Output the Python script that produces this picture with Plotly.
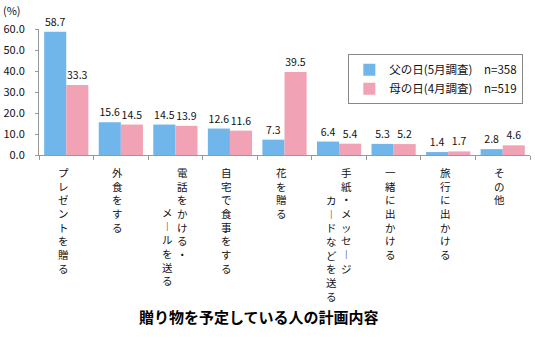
import plotly.graph_objects as go

# ---- data ----
categories = ["プレゼントを贈る", "外食をする", "電話をかける・メールを送る", "自宅で食事をする",
              "花を贈る", "手紙・メッセージカードなどを送る", "一緒に出かける", "旅行に出かける", "その他"]
label_columns = [["プレゼントを贈る"], ["外食をする"], ["電話をかける・", "メールを送る"], ["自宅で食事をする"],
                 ["花を贈る"], ["手紙・メッセージ", "カードなどを送る"], ["一緒に出かける"], ["旅行に出かける"], ["その他"]]
father_day = [58.7, 15.6, 14.5, 12.6, 7.3, 6.4, 5.3, 1.4, 2.8]
mother_day = [33.3, 14.5, 13.9, 11.6, 39.5, 5.4, 5.2, 1.7, 4.6]
series_names = ["父の日(5月調査)\u3000n=358", "母の日(4月調査)\u3000n=519"]
y_ticks = [0, 10, 20, 30, 40, 50, 60]
title_text = "贈り物を予定している人の計画内容"
unit_text = "(%)"

FONT = "Noto Sans CJK JP"
BLUE = "#70b6ea"
PINK = "#f2a2b5"

fig = go.Figure()
fig.add_trace(go.Bar(x=categories, y=father_day, name=series_names[0], marker_color=BLUE,
                     marker_line_width=0, texttemplate="%{y:.1f}", textposition="outside",
                     textfont=dict(size=10.5, color="#111", family=FONT), cliponaxis=False,
                     legendgroup="a"))
fig.add_trace(go.Bar(x=categories, y=mother_day, name=series_names[1], marker_color=PINK,
                     marker_line_width=0, texttemplate="%{y:.1f}", textposition="outside",
                     textfont=dict(size=10.5, color="#111", family=FONT), cliponaxis=False,
                     legendgroup="b"))

# vertical (tategaki) category labels: one stacked column of characters per line
vert_map = {"ー": "\ufe31"}
annotations = []
for cat, cols in zip(categories, label_columns):
    if len(cols) == 1:
        specs = [(-3, 0)]
    else:
        specs = [(7, 0), (-8, 40 if cat.startswith("電話") else 28)]
    for text, (dx, start) in zip(cols, specs):
        stacked = "<br>".join(vert_map.get(ch, ch) for ch in text)
        annotations.append(dict(x=cat, y=0, xref="x", yref="y", text=stacked,
                                showarrow=False, xanchor="center", yanchor="top",
                                xshift=dx, yshift=-(8 + start), align="center",
                                font=dict(size=10.5, family=FONT, color="#111")))

annotations.append(dict(x=0.448, y=-1.278, xref="paper", yref="paper", text="<b>" + title_text + "</b>",
                        showarrow=False, xanchor="center", yanchor="middle",
                        font=dict(size=15, family=FONT, color="#000")))
annotations.append(dict(x=-0.055, y=1.15, xref="paper", yref="paper", text=unit_text,
                        showarrow=False, xanchor="center", yanchor="middle",
                        font=dict(size=11, family=FONT, color="#111")))

fig.update_layout(
    width=535, height=346,
    margin=dict(l=39, r=5, t=29, b=191, pad=0, autoexpand=False),
    paper_bgcolor="white", plot_bgcolor="white",
    barmode="group", bargap=0.19, bargroupgap=0,
    font=dict(family=FONT, size=11, color="#111"),
    showlegend=True,
    legend=dict(x=0.63, y=0.80, xanchor="left", yanchor="top", bordercolor="#888", borderwidth=1,
                bgcolor="white", font=dict(size=11.5, family=FONT), tracegroupgap=13,
                itemwidth=30, traceorder="normal"),
    annotations=annotations,
)
fig.update_xaxes(type="category", showticklabels=False, showline=True, linecolor="#999",
                 ticks="outside", tickson="boundaries", ticklen=4, tickcolor="#999",
                 showgrid=False, zeroline=False)
fig.update_yaxes(range=[0, 60], tickvals=y_ticks, tickformat=".1f", showline=True, linecolor="#999",
                 ticks="outside", ticklen=3, tickcolor="#999", showgrid=False, zeroline=False,
                 ticklabelstandoff=8, tickfont=dict(size=11, family=FONT))

fig.write_html("out.html")
